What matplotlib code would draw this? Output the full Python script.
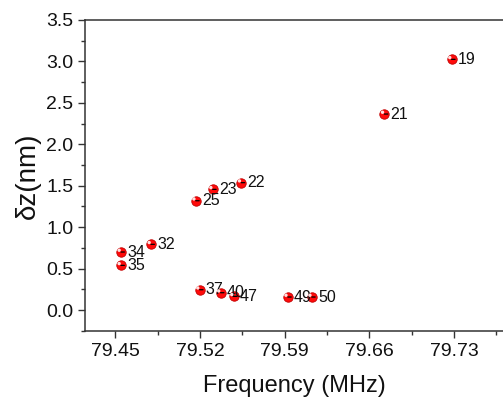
import matplotlib
matplotlib.use("Agg")
import matplotlib.pyplot as plt
from matplotlib.ticker import MultipleLocator

plt.rcParams['font.family'] = ['Liberation Sans', 'DejaVu Sans']

# values
freq = [79.728, 79.6724, 79.5541, 79.5305, 79.5165, 79.4795, 79.4547,
        79.4547, 79.5197, 79.537, 79.5478, 79.5926, 79.6124]
dz = [3.025, 2.365, 1.537, 1.456, 1.319, 0.793, 0.70,
      0.539, 0.245, 0.209, 0.165, 0.157, 0.157]
labels = ['19', '21', '22', '23', '25', '32', '34',
          '35', '37', '40', '47', '49', '50']

fig = plt.figure(figsize=(5.03, 3.98), dpi=100)
ax = fig.add_axes([85 / 503, 1 - 331 / 398, 418 / 503, 311 / 398])

# red "ball" markers with a small highlight
ax.scatter(freq, dz, s=46, color='#ff0a0a', edgecolors='#c00000', linewidths=0.6, zorder=3)
ax.scatter(freq, dz, s=6, color='#ffe0e0', edgecolors='none', zorder=4,
           transform=ax.transData + matplotlib.transforms.ScaledTranslation(-1.3 / 72, 1.3 / 72, fig.dpi_scale_trans))

for x, y, t in zip(freq, dz, labels):
    ax.annotate(t, (x, y), xytext=(4.5, 0), textcoords='offset points', ha='left', va='center',
                fontsize=11.5, color='#111111',
                arrowprops=dict(arrowstyle='-', color='black', lw=0.9, shrinkA=0, shrinkB=0))

ax.set_xlim(79.425, 79.7705)
ax.set_ylim(-0.253, 3.5)
ax.set_xticks([79.45, 79.52, 79.59, 79.66, 79.73])
ax.set_xticklabels(['79.45', '79.52', '79.59', '79.66', '79.73'])
ax.xaxis.set_minor_locator(MultipleLocator(0.035))
ax.yaxis.set_major_locator(MultipleLocator(0.5))
ax.yaxis.set_minor_locator(MultipleLocator(0.25))
ax.yaxis.set_major_formatter(matplotlib.ticker.FormatStrFormatter('%.1f'))

ax.tick_params(which='major', direction='out', length=5, width=1, labelsize=14, colors='#333333',
               labelcolor='#111111', top=False, right=False)
ax.tick_params(which='minor', direction='out', length=3, width=1, colors='#333333', top=False, right=False)
for s in ax.spines.values():
    s.set_color('#333333')
    s.set_linewidth(1.1)
ax.spines['right'].set_visible(False)

ax.set_xlabel('Frequency (MHz)', fontsize=17, color='#111111', labelpad=11)
ax.set_ylabel('δz(nm)', fontsize=20, color='#111111', labelpad=4)

fig.savefig('out.png', dpi=100)
